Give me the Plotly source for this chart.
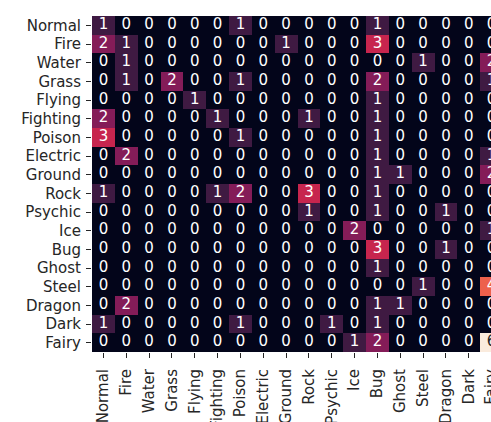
import plotly.graph_objects as go

types = ["Normal", "Fire", "Water", "Grass", "Flying", "Fighting", "Poison",
         "Electric", "Ground", "Rock", "Psychic", "Ice", "Bug", "Ghost",
         "Steel", "Dragon", "Dark", "Fairy"]

# counts per (row type, column type)
normal_row   = [1, 0, 0, 0, 0, 0, 1, 0, 0, 0, 0, 0, 1, 0, 0, 0, 0, 0]
fire_row     = [2, 1, 0, 0, 0, 0, 0, 0, 1, 0, 0, 0, 3, 0, 0, 0, 0, 0]
water_row    = [0, 1, 0, 0, 0, 0, 0, 0, 0, 0, 0, 0, 0, 0, 1, 0, 0, 2]
grass_row    = [0, 1, 0, 2, 0, 0, 1, 0, 0, 0, 0, 0, 2, 0, 0, 0, 0, 1]
flying_row   = [0, 0, 0, 0, 1, 0, 0, 0, 0, 0, 0, 0, 1, 0, 0, 0, 0, 0]
fighting_row = [2, 0, 0, 0, 0, 1, 0, 0, 0, 1, 0, 0, 1, 0, 0, 0, 0, 0]
poison_row   = [3, 0, 0, 0, 0, 0, 1, 0, 0, 0, 0, 0, 1, 0, 0, 0, 0, 0]
electric_row = [0, 2, 0, 0, 0, 0, 0, 0, 0, 0, 0, 0, 1, 0, 0, 0, 0, 1]
ground_row   = [0, 0, 0, 0, 0, 0, 0, 0, 0, 0, 0, 0, 1, 1, 0, 0, 0, 2]
rock_row     = [1, 0, 0, 0, 0, 1, 2, 0, 0, 3, 0, 0, 1, 0, 0, 0, 0, 0]
psychic_row  = [0, 0, 0, 0, 0, 0, 0, 0, 0, 1, 0, 0, 1, 0, 0, 1, 0, 0]
ice_row      = [0, 0, 0, 0, 0, 0, 0, 0, 0, 0, 0, 2, 0, 0, 0, 0, 0, 1]
bug_row      = [0, 0, 0, 0, 0, 0, 0, 0, 0, 0, 0, 0, 3, 0, 0, 1, 0, 0]
ghost_row    = [0, 0, 0, 0, 0, 0, 0, 0, 0, 0, 0, 0, 1, 0, 0, 0, 0, 0]
steel_row    = [0, 0, 0, 0, 0, 0, 0, 0, 0, 0, 0, 0, 0, 0, 1, 0, 0, 4]
dragon_row   = [0, 2, 0, 0, 0, 0, 0, 0, 0, 0, 0, 0, 1, 1, 0, 0, 0, 0]
dark_row     = [1, 0, 0, 0, 0, 0, 1, 0, 0, 0, 1, 0, 1, 0, 0, 0, 0, 0]
fairy_row    = [0, 0, 0, 0, 0, 0, 0, 0, 0, 0, 0, 1, 2, 0, 0, 0, 0, 6]

z = [normal_row, fire_row, water_row, grass_row, flying_row, fighting_row,
     poison_row, electric_row, ground_row, rock_row, psychic_row, ice_row,
     bug_row, ghost_row, steel_row, dragon_row, dark_row, fairy_row]

ZMAX = 6
rocket = [
    [0.0, "#03051a"], [1 / 7, "#35193e"], [2 / 7, "#701f57"],
    [3 / 7, "#ad1759"], [4 / 7, "#e13342"], [5 / 7, "#f37651"],
    [6 / 7, "#f6b48f"], [1.0, "#faebdd"],
]

fig = go.Figure()
fig.add_trace(go.Heatmap(
    z=z, x=types, y=types, zmin=0, zmax=ZMAX,
    colorscale=rocket, showscale=False, hoverinfo="skip",
))

# cell annotations: light text on dark cells, dark text on the lightest cells
tx, ty, tt, tc = [], [], [], []
for r, row in enumerate(z):
    for c, v in enumerate(row):
        tx.append(types[c])
        ty.append(types[r])
        tt.append(str(v))
        tc.append("#262626" if v / ZMAX > 0.75 else "#ffffff")

fig.add_trace(go.Scatter(
    x=tx, y=ty, text=tt, mode="text",
    textfont=dict(family="DejaVu Sans", size=15, color=tc),
    hoverinfo="skip", showlegend=False, cliponaxis=True,
))

n = len(types)
fig.update_layout(
    width=520, height=422,
    margin=dict(l=92, r=17, t=16, b=70, autoexpand=False),
    paper_bgcolor="white", plot_bgcolor="white",
    font=dict(family="DejaVu Sans", size=15, color="#262626"),
    showlegend=False,
)
fig.update_xaxes(
    type="category", tickmode="array", tickvals=types, ticktext=types,
    tickangle=-90, ticks="outside", ticklen=5, ticklabelstandoff=5,
    tickwidth=1, tickcolor="#262626", showgrid=False, zeroline=False,
    showline=False, range=[-0.5, n - 0.5], automargin=False,
)
fig.update_yaxes(
    type="category", tickmode="array", tickvals=types, ticktext=types,
    range=[n - 0.5, -0.5], ticks="outside", ticklen=5, ticklabelstandoff=2,
    tickwidth=1, tickcolor="#262626", showgrid=False, zeroline=False,
    showline=False, automargin=False,
)

fig.write_html(
    "out.html",
    post_script="document.body.style.overflow='hidden';",
)
